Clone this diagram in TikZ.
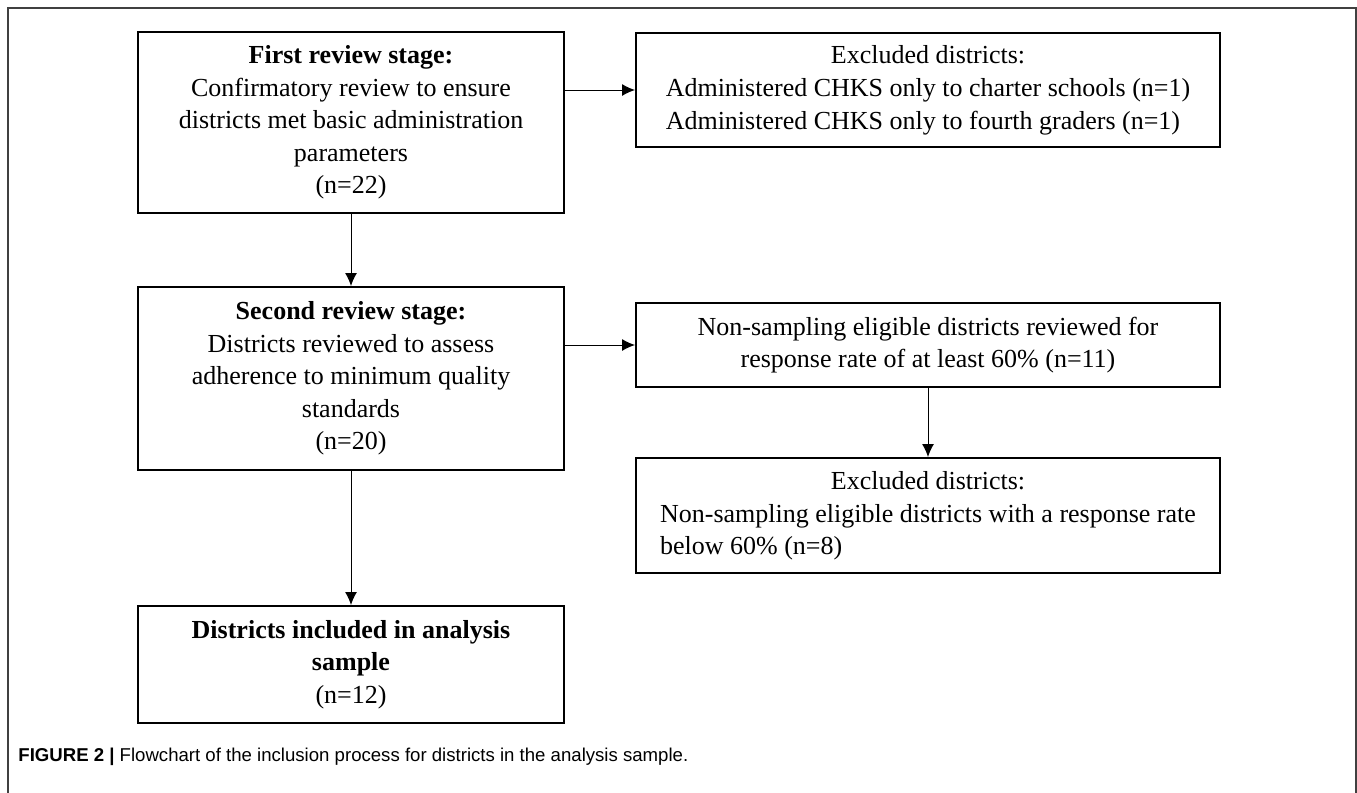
\documentclass[tikz,border=0pt]{standalone}
\usepackage{fontspec}
\setmainfont{Liberation Serif}
\newfontfamily\capfont{Liberation Sans}
\usepackage{tikz}
\usetikzlibrary{arrows.meta}
\tikzstyle{stagebox}=[draw, line width=1pt, inner sep=0pt, align=center, font=\fontsize{13}{16.3}\selectfont]
\tikzstyle{flow}=[line width=0.5pt, -{Latex[length=6.5pt,width=6pt]}]

\begin{document}
\begin{tikzpicture}[x=0.5pt, y=-0.5pt]
        \useasboundingbox (0,0) rectangle (1357,793);
        \draw[gray!50!black, line width=0.6pt] (8,793) -- (8,8) -- (1356,8) -- (1356,793);
        % left column
        \node[stagebox, minimum width=213pt, minimum height=90.5pt] (first) at (351,122.5)
            {\textbf{First review stage:}\\Confirmatory review to ensure\\districts met basic administration\\parameters\\(n=22)};
        \node[stagebox, minimum width=213pt, minimum height=91.5pt] (second) at (351,378.5)
            {\textbf{Second review stage:}\\Districts reviewed to assess\\adherence to minimum quality\\standards\\(n=20)};
        \node[stagebox, minimum width=213pt, minimum height=58.5pt] (included) at (351,664.5)
            {\textbf{Districts included in analysis}\\\textbf{sample}\\(n=12)};
        % right column
        \node[stagebox, minimum width=292pt, minimum height=57pt] (excl1) at (928,90)
            {\begin{tabular}{@{}l@{}}\multicolumn{1}{c}{Excluded districts:}\\Administered CHKS only to charter schools (n=1)\\Administered CHKS only to fourth graders (n=1)\end{tabular}};
        \node[stagebox, minimum width=292pt, minimum height=42pt] (nonsamp) at (928,345)
            {Non-sampling eligible districts reviewed for\\response rate of at least 60\% (n=11)};
        \node[stagebox, minimum width=292pt, minimum height=57.5pt] (excl2) at (928,515.5)
            {\begin{tabular}{@{}l@{}}\multicolumn{1}{c}{Excluded districts:}\\Non-sampling eligible districts with a response rate\\below 60\% (n=8)\end{tabular}};
        % arrows
        \draw[flow] (first.east |- excl1.west) -- (excl1.west);
        \draw[flow] (first.south) -- (second.north);
        \draw[flow] (second.east |- nonsamp.west) -- (nonsamp.west);
        \draw[flow] (nonsamp.south) -- (excl2.north);
        \draw[flow] (second.south) -- (included.north);
        \node[anchor=base west, inner sep=0pt, font=\capfont\fontsize{9.3}{11}\selectfont] (caption) at (18,761)
            {\textbf{FIGURE 2} \textbf{|} Flowchart of the inclusion process for districts in the analysis sample.};
    \end{tikzpicture}
\end{document}
